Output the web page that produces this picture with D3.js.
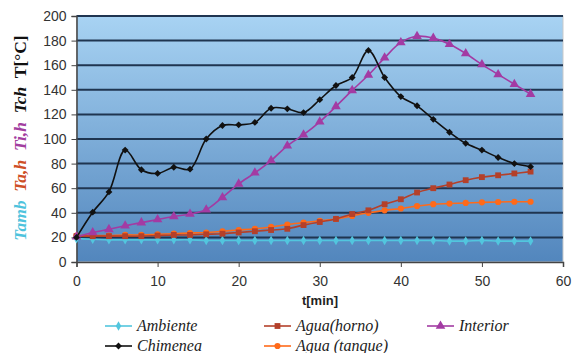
<!DOCTYPE html>
<html><head><meta charset="utf-8">
<script src="https://cdn.jsdelivr.net/npm/d3@7"></script>
<style>body{margin:0;background:#fff}svg{display:block}</style>
</head><body>
<script>
const times = [0,2,4,6,8,10,12,14,16,18,20,22,24,26,28,30,32,34,36,38,40,42,44,46,48,50,52,54,56];
const ambiente = [19,18.5,18,18,18,18,18,18,17.5,17.5,17.5,17.5,17.5,17.5,17.5,17.5,17.5,17.5,17.5,17.5,17.5,17.5,17.5,17,17,17.5,17,17,17];
const chimenea = [20,40.5,57,91,75,72,77,75.5,100,111,111.5,113.5,125,124.5,121.5,132,143.5,150,172,150,134.5,127,116,105.5,96.5,91,85,80,77.5];
const interior = [20.5,24,26.5,29.5,32,34.5,37,39,42.5,52.5,63.5,72.5,82.5,94.5,103.5,114,126.5,139.5,152,166,178.5,183.5,182,177,169.5,160.5,152.5,144.5,136.5];
const aguaHorno = [21,21,21,21,21,21.5,22,22,22.5,23,24,25,26,27,30,32.5,35,39,42,47,51,56.5,60,63,66.5,69,70.5,72,73.5];
const aguaTanque = [21.5,21.5,21.5,22,22,22.5,23,23.5,24,25,26,27,28.5,30.5,32,33.5,35,37.5,40,42,43.5,45.5,47,47.5,48,48.5,48.8,49,49];
const xTicks = [0,10,20,30,40,50,60];
const yTicks = [0,20,40,60,80,100,120,140,160,180,200];

const W=572,H=353;
const svg=d3.select("body").append("svg").attr("width",W).attr("height",H);
const x=d3.scaleLinear().domain([0,60]).range([76.5,563]);
const y=d3.scaleLinear().domain([0,200]).range([262,16]);

const defs=svg.append("defs");
const g=defs.append("linearGradient").attr("id","bg").attr("x1",0).attr("y1",0).attr("x2",0).attr("y2",1);
g.append("stop").attr("offset","0%").attr("stop-color","#a8d3f3");
g.append("stop").attr("offset","100%").attr("stop-color","#5286bd");

svg.append("rect").attr("x",x(0)).attr("y",y(200)).attr("width",x(60)-x(0)).attr("height",y(0)-y(200)).attr("fill","url(#bg)").attr("stroke","#c9c9c9").attr("stroke-width",1);

// gridlines
svg.append("g").selectAll("line").data(yTicks.filter(d=>d>0)).join("line")
  .attr("x1",x(0)).attr("x2",x(60)).attr("y1",d=>y(d)).attr("y2",d=>y(d))
  .attr("stroke","#1f3550").attr("stroke-width",2);

// axes
const yAxis=svg.append("g").attr("transform",`translate(${x(0)},0)`)
  .call(d3.axisLeft(y).tickValues(yTicks).tickSize(5).tickPadding(5));
const xAxis=svg.append("g").attr("transform",`translate(0,${y(0)})`)
  .call(d3.axisBottom(x).tickValues(xTicks).tickSize(5).tickPadding(9));
[yAxis,xAxis].forEach(a=>{
  a.select(".domain").attr("stroke","#444").attr("stroke-width",1.5);
  a.selectAll(".tick line").attr("stroke","#444");
  a.selectAll("text").attr("font-family","Liberation Sans, Arial, sans-serif").attr("font-size",14).attr("fill","#333");
});

svg.append("text").attr("x",320).attr("y",305).attr("text-anchor","middle")
  .attr("font-family","Liberation Sans, Arial, sans-serif").attr("font-weight","bold").attr("font-size",13).attr("fill","#222").text("t[min]");

// y title
const yt=svg.append("text").attr("transform","translate(26,138) rotate(-90)").attr("text-anchor","middle")
  .attr("font-family","Liberation Serif, Times New Roman, serif").attr("font-weight","bold").attr("font-size",17.5);
[["Tamb","#4ec3dd",true],["  Ta,h","#cf4f26",true],["  Ti,h","#a23ea0",true],["  Tch","#111",true],["  T[°C]","#111",false]].forEach(([t,c,it])=>{
  yt.append("tspan").attr("fill",c).attr("font-style",it?"italic":"normal").style("white-space","pre").text(t);
});

const series=[
  {name:"Ambiente",vals:ambiente,color:"#52c6de",sym:d3.symbolDiamond,size:26},
  {name:"Chimenea",vals:chimenea,color:"#111111",sym:d3.symbolDiamond2,size:30},
  {name:"Agua(horno)",vals:aguaHorno,color:"#b4402a",sym:d3.symbolSquare,size:34},
  {name:"Agua (tanque)",vals:aguaTanque,color:"#ff6a1a",sym:d3.symbolCircle,size:30},
  {name:"Interior",vals:interior,color:"#a33ba3",sym:d3.symbolTriangle,size:40}
];
const line=d3.line().x((d,i)=>x(times[i])).y(d=>y(d)).curve(d3.curveCatmullRom.alpha(0.5));
const order=[0,3,2,4,1];
order.forEach(k=>{
  const s=series[k];
  svg.append("path").attr("d",line(s.vals)).attr("fill","none").attr("stroke",s.color).attr("stroke-width",1.6);
  svg.append("g").selectAll("path").data(s.vals).join("path")
    .attr("transform",(d,i)=>`translate(${x(times[i])},${y(d)})`)
    .attr("d",d3.symbol().type(s.sym).size(s.size)).attr("fill",s.color);
});

// legend
const leg=[
  {s:series[0],lx:105,ly:326},
  {s:series[2],lx:264,ly:326},
  {s:series[4],lx:427,ly:326},
  {s:series[1],lx:105,ly:346},
  {s:series[3],lx:264,ly:346}
];
leg.forEach(l=>{
  const gg=svg.append("g");
  gg.append("line").attr("x1",l.lx).attr("x2",l.lx+27).attr("y1",l.ly).attr("y2",l.ly).attr("stroke",l.s.color).attr("stroke-width",1.6);
  gg.append("path").attr("transform",`translate(${l.lx+13.5},${l.ly})`).attr("d",d3.symbol().type(l.s.sym).size(l.s.size)).attr("fill",l.s.color);
  gg.append("text").attr("x",l.lx+32).attr("y",l.ly+5).attr("font-family","Liberation Serif, Times New Roman, serif")
    .attr("font-style","italic").attr("font-size",16).attr("fill","#222").text(l.s.name);
});
</script>
</body></html>
